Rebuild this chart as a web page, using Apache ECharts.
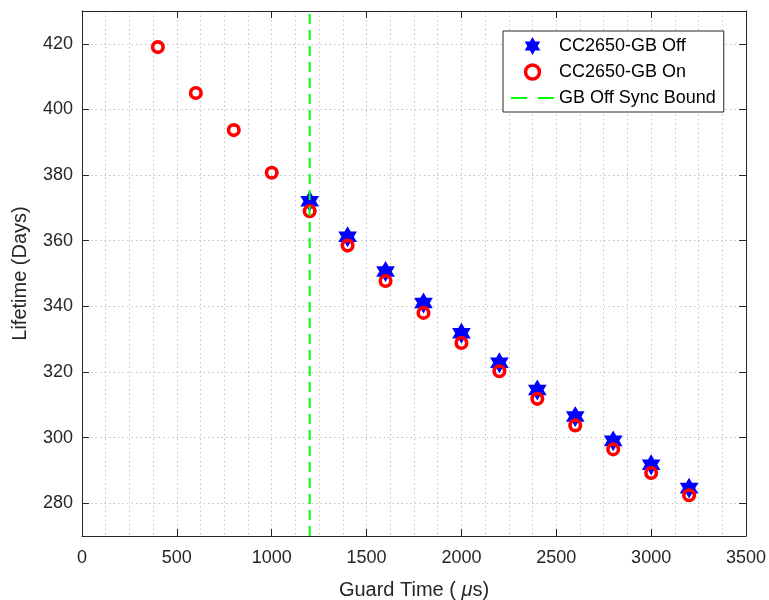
<!DOCTYPE html>
<html>
<head>
<meta charset="utf-8">
<script src="https://cdn.jsdelivr.net/npm/echarts@6/dist/echarts.min.js"></script>
<style>
html,body{margin:0;padding:0;background:#fff;}
#chart{width:769px;height:600px;}
</style>
</head>
<body>
<div id="chart"></div>
<script>
const guardTimeOn = [400, 600, 800, 1000, 1200, 1400, 1600, 1800, 2000, 2200, 2400, 2600, 2800, 3000, 3200];
const lifetimeOn = [419, 405, 393.7, 380.7, 369, 358.5, 347.7, 338, 328.8, 320.2, 311.8, 303.7, 296.4, 289.2, 282.4];
const guardTimeOff = [1200, 1400, 1600, 1800, 2000, 2200, 2400, 2600, 2800, 3000, 3200];
const lifetimeOff = [372, 361.2, 350.6, 341, 331.8, 322.8, 314.5, 306.4, 299, 291.7, 284.6];
const syncBoundX = 1200;
const yTickValues = [280, 300, 320, 340, 360, 380, 400, 420];
const seriesNames = ['CC2650-GB Off', 'CC2650-GB On', 'GB Off Sync Bound'];

const FONT = "'Liberation Sans', Arial, Helvetica, sans-serif";
const AX = '#262626';
const GRIDC = '#c4c4c4';
const hexagram = 'path://M50,0 L64.43,25 L93.3,25 L78.87,50 L93.3,75 L64.43,75 L50,100 L35.57,75 L6.7,75 L21.13,50 L6.7,25 L35.57,25 Z';
const dashIcon = 'path://M0,0 L15,0 L15,2 L0,2 Z M25,0 L40,0 L40,2 L25,2 Z';

const chart = echarts.init(document.getElementById('chart'), null, {renderer: 'canvas'});
const Y_MIN = 270, Y_MAX = 430, X_MIN = 0, X_MAX = 3500;

chart.setOption({
  animation: false,
  backgroundColor: '#fff',
  textStyle: {fontFamily: FONT},
  grid: {left: 82, top: 11, right: 23, bottom: 64, containLabel: false, outerBoundsMode: 'none'},
  legend: {
    orient: 'vertical',
    left: 503, top: 31,
    padding: [6, 8, 5, 8],
    itemWidth: 43, itemHeight: 14, itemGap: 8,
    backgroundColor: '#fff',
    borderColor: AX, borderWidth: 1,
    textStyle: {fontSize: 18, color: '#000', fontFamily: FONT},
    data: [
      {name: seriesNames[0]},
      {name: seriesNames[1], itemStyle: {borderWidth: 3.5, borderColor: '#ff0000', color: 'rgba(0,0,0,0)'}},
      {name: seriesNames[2], icon: dashIcon, itemStyle: {color: '#00ff00', borderWidth: 0}}
    ]
  },
  xAxis: [{
    type: 'value', min: X_MIN, max: X_MAX, interval: 500, position: 'bottom',
    name: 'Guard Time ( {it|μ}s)', nameLocation: 'middle', nameGap: 44,
    nameTextStyle: {fontSize: 20, color: AX, fontFamily: FONT, rich: {it: {fontSize: 20, fontStyle: 'italic', color: AX, fontFamily: FONT}}},
    axisLine: {show: true, lineStyle: {color: AX, width: 1}},
    axisTick: {show: true, inside: true, length: 7, lineStyle: {color: AX}},
    axisLabel: {fontSize: 18, color: AX, margin: 13, fontFamily: FONT, formatter: v => String(v)},
    splitLine: {show: true, lineStyle: {color: GRIDC, type: [1.5, 3], width: 1}},
    minorTick: {show: false, splitNumber: 4},
    minorSplitLine: {show: true, lineStyle: {color: GRIDC, type: [1.5, 3], width: 1}}
  }, {
    type: 'value', min: X_MIN, max: X_MAX, interval: 500, position: 'top',
    axisLine: {show: true, onZero: false, lineStyle: {color: AX, width: 1}},
    axisTick: {show: true, inside: true, length: 7, lineStyle: {color: AX}},
    axisLabel: {show: false},
    splitLine: {show: false}
  }],
  yAxis: [{
    type: 'value', min: Y_MIN, max: Y_MAX, interval: 5, position: 'left',
    name: 'Lifetime (Days)', nameLocation: 'middle', nameGap: 52,
    nameTextStyle: {fontSize: 20, color: AX, fontFamily: FONT},
    axisLine: {show: true, lineStyle: {color: AX, width: 1}},
    axisTick: {show: true, inside: true, length: 7, lineStyle: {color: AX}, customValues: yTickValues},
    axisLabel: {fontSize: 18, color: AX, margin: 9, fontFamily: FONT, customValues: yTickValues},
    splitLine: {show: true, lineStyle: {color: GRIDC, type: [1.5, 3], width: 1}}
  }, {
    type: 'value', min: Y_MIN, max: Y_MAX, interval: 5, position: 'right',
    axisLine: {show: true, onZero: false, lineStyle: {color: AX, width: 1}},
    axisTick: {show: true, inside: true, length: 7, lineStyle: {color: AX}, customValues: yTickValues},
    axisLabel: {show: false},
    splitLine: {show: false}
  }],
  series: [{
    name: seriesNames[0],
    type: 'scatter',
    symbol: hexagram,
    symbolSize: [16, 18],
    itemStyle: {color: '#0000ff', borderColor: '#0000ff', borderWidth: 1.5, opacity: 1},
    z: 3,
    data: guardTimeOff.map((x, i) => [x, lifetimeOff[i]])
  }, {
    name: seriesNames[1],
    type: 'scatter',
    symbol: 'circle',
    symbolSize: 10.5,
    itemStyle: {color: 'rgba(0,0,0,0)', borderColor: '#ff0000', borderWidth: 3.6, opacity: 1},
    z: 4,
    data: guardTimeOn.map((x, i) => [x, lifetimeOn[i]])
  }, {
    name: seriesNames[2],
    type: 'line',
    symbol: 'none',
    color: '#00ff00',
    lineStyle: {color: '#00ff00', width: 2, type: [10, 6]},
    z: 5,
    data: [[syncBoundX, Y_MIN], [syncBoundX, Y_MAX]]
  }]
});
</script>
</body>
</html>
